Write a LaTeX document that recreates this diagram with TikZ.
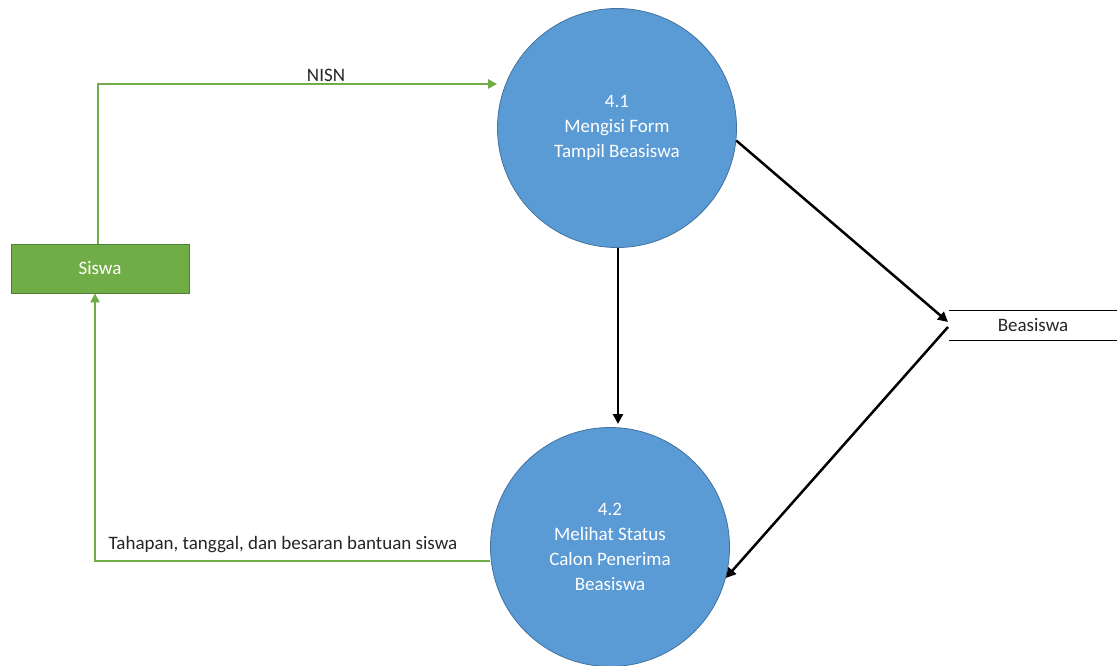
\documentclass[tikz,border=0pt]{standalone}
\usepackage{fontspec}
\setmainfont{Carlito}
\usetikzlibrary{arrows.meta}
\definecolor{procfill}{HTML}{5B9BD5}
\definecolor{procedge}{HTML}{41719C}
\definecolor{entfill}{HTML}{70AD47}
\definecolor{entedge}{HTML}{507E32}
\definecolor{txt}{HTML}{262626}
\tikzset{
  process/.style={circle, fill=procfill, draw=procedge, line width=0.8pt,
    minimum size=239pt, inner sep=0pt, text=white, align=center,
    font=\fontsize{19}{25}\selectfont},
  entity/.style={rectangle, fill=entfill, draw=entedge, line width=0.8pt,
    minimum width=178pt, minimum height=49pt, text=white,
    font=\fontsize{19}{23}\selectfont},
  storebox/.style={rectangle, minimum width=167pt, minimum height=29pt,
    inner sep=0pt, text=txt, font=\fontsize{19}{23}\selectfont},
  greenflow/.style={draw=entfill, line width=2.5pt,
    -{Triangle[length=9pt,width=9pt]}},
  blackflow/.style={draw=black, line width=2.5pt,
    -{Triangle[length=10pt,width=10pt]}},
  flowlabel/.style={text=txt, font=\fontsize{19}{23}\selectfont, inner sep=0pt}
}
\begin{document}
\begin{tikzpicture}[x=1pt, y=-1pt]
\useasboundingbox (0,0) rectangle (1119,666);
\clip (0,0) rectangle (1119,666);
\fill[white] (0,0) rectangle (1119,666);

% processes, entity and data store
\node[process] (p41) at (617,128) {4.1\\Mengisi Form\\Tampil Beasiswa};
\node[process] (p42) at (610,547) {4.2\\Melihat Status\\Calon Penerima\\Beasiswa};
\node[entity] (siswa) at (100,268.5) {Siswa};
\node[storebox] (store) at (1033,325.5) {Beasiswa};
\draw[line width=1pt] (store.north west) -- (store.north east);
\draw[line width=1pt] (store.south west) -- (store.south east);

% bend points of the orthogonal flows
\coordinate (nisnbend) at (98,84);
\coordinate (retbend) at (95,561);
\coordinate (storein) at (948,322);
\coordinate (storeout) at (948,327);

% Siswa -> 4.1
\draw[greenflow] (siswa.north -| nisnbend) -- (nisnbend) -- (p41.west |- nisnbend);
\node[flowlabel] (nisn) at (326,75) {NISN};

% 4.2 -> Siswa
\draw[greenflow] (p42.west |- retbend) -- (retbend) -- (retbend |- siswa.south);
\node[flowlabel] (ret) at (283,545) {Tahapan, tanggal, dan besaran bantuan siswa};

% 4.1 -> 4.2
\draw[blackflow] (p41.south -| 618,0) -- (618,424);

% 4.1 -> Beasiswa -> 4.2
\draw[blackflow] (p41.-6) -- (storein);
\draw[blackflow] (storeout) -- (p42.-15);
\end{tikzpicture}
\end{document}
